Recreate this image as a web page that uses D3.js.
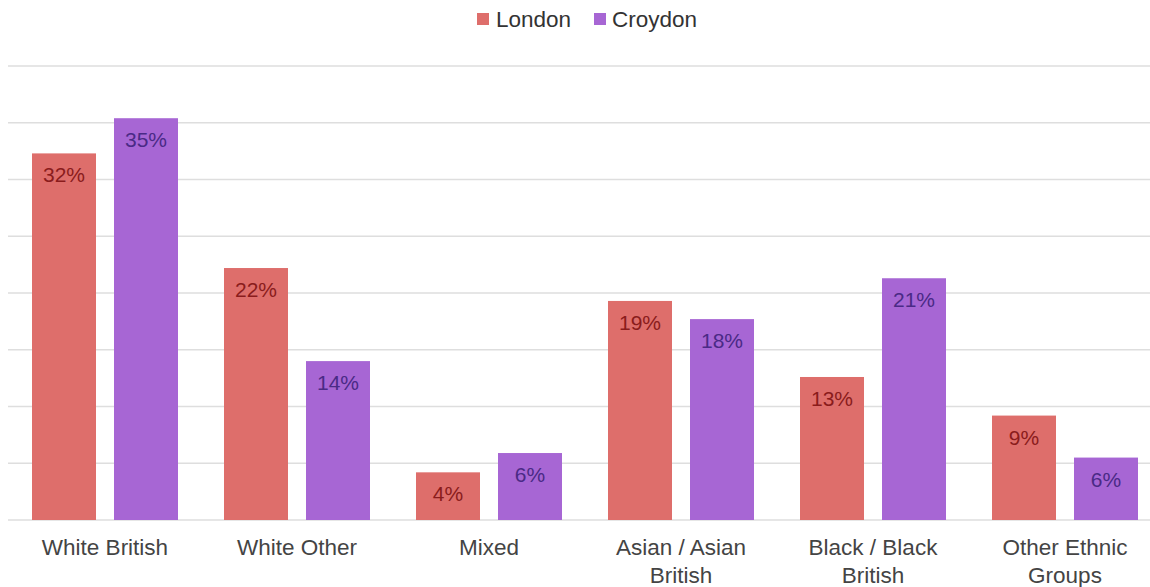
<!DOCTYPE html>
<html><head><meta charset="utf-8">
<script src="https://cdn.jsdelivr.net/npm/d3@7"></script>
<style>body{margin:0;background:#fff;}svg{display:block;}</style>
</head><body>
<svg id="c" width="1150" height="587"></svg>
<script>
const categories = ["White British","White Other","Mixed","Asian / Asian British","Black / Black British","Other Ethnic Groups"];
const categoryLines = [["White British"],["White Other"],["Mixed"],["Asian / Asian","British"],["Black / Black","British"],["Other Ethnic","Groups"]];
const seriesNames = ["London","Croydon"];
const london = [32.3,22.2,4.2,19.3,12.6,9.2];
const croydon = [35.4,14.0,5.9,17.7,21.3,5.5];
const londonLabels = ["32%","22%","4%","19%","13%","9%"];
const croydonLabels = ["35%","14%","6%","18%","21%","6%"];
const yTicks = [0,5,10,15,20,25,30,35,40];

const colors = {London:"#de6e6b", Croydon:"#a766d4"};
const labelColors = {London:"#8a1c1c", Croydon:"#4a2a86"};

const svg = d3.select("#c");
const y = d3.scaleLinear().domain([0,40]).range([520,66]);
const x0 = d3.scaleBand().domain(categories).range([9,1161]).paddingInner(0).paddingOuter(0);
const x1 = d3.scaleBand().domain(seriesNames).range([0,x0.bandwidth()]).paddingInner(0.2195).paddingOuter(0.2805);

// gridlines
svg.append("g").selectAll("line").data(yTicks).join("line")
  .attr("x1",8).attr("x2",1150)
  .attr("y1",d=>y(d)).attr("y2",d=>y(d))
  .attr("stroke","#dedede").attr("stroke-width",1.5);

const values = {London:london, Croydon:croydon};
const labels = {London:londonLabels, Croydon:croydonLabels};

seriesNames.forEach(s=>{
  const g = svg.append("g");
  g.selectAll("rect").data(categories).join("rect")
    .attr("x",(c)=>x0(c)+x1(s))
    .attr("y",(c,i)=>y(values[s][i]))
    .attr("width",x1.bandwidth())
    .attr("height",(c,i)=>y(0)-y(values[s][i]))
    .attr("fill",colors[s]);
  g.selectAll("text").data(categories).join("text")
    .attr("x",(c)=>x0(c)+x1(s)+x1.bandwidth()/2)
    .attr("y",(c,i)=>y(values[s][i])+29)
    .attr("text-anchor","middle")
    .attr("font-family","'Liberation Sans', Arial, sans-serif")
    .attr("font-size",21)
    .attr("fill",labelColors[s])
    .text((c,i)=>labels[s][i]);
});

// x axis labels
const ax = svg.append("g");
categories.forEach((c,i)=>{
  const t = ax.append("text")
    .attr("x",x0(c)+x0.bandwidth()/2)
    .attr("y",555)
    .attr("text-anchor","middle")
    .attr("font-family","'Liberation Sans', Arial, sans-serif")
    .attr("font-size",22.5)
    .attr("fill","#444");
  categoryLines[i].forEach((ln,j)=>{
    t.append("tspan").attr("x",x0(c)+x0.bandwidth()/2).attr("dy",j===0?0:28).text(ln);
  });
});

// legend
const legendPos = [{x:477,tx:496},{x:594,tx:612}];
seriesNames.forEach((s,i)=>{
  svg.append("rect").attr("x",legendPos[i].x).attr("y",13).attr("width",12).attr("height",12).attr("fill",colors[s]);
  svg.append("text").attr("x",legendPos[i].tx).attr("y",27)
    .attr("font-family","'Liberation Sans', Arial, sans-serif")
    .attr("font-size",22.5).attr("fill","#333").text(s);
});
</script>
</body></html>
